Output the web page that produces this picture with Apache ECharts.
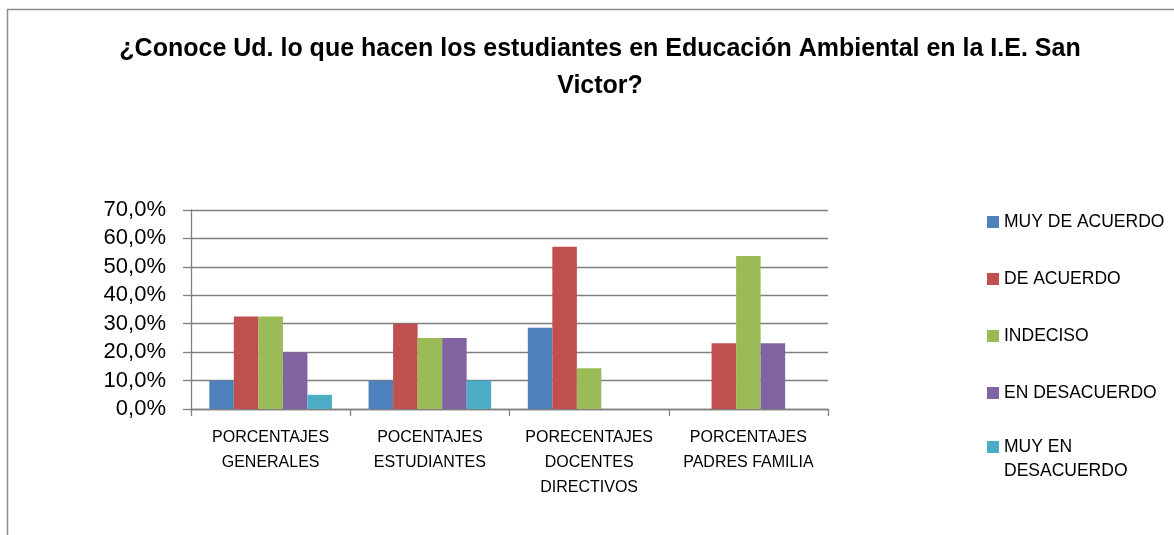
<!DOCTYPE html>
<html>
<head>
<meta charset="utf-8">
<script src="https://cdn.jsdelivr.net/npm/echarts@6/dist/echarts.min.js"></script>
<style>
html,body{margin:0;padding:0;background:#fff;}
#chart{width:1174px;height:535px;}
</style>
</head>
<body>
<div id="chart"></div>
<script>
var titleText = '¿Conoce Ud. lo que hacen los estudiantes en Educación Ambiental en la I.E. San\nVictor?';
var categories = ['PORCENTAJES\nGENERALES', 'POCENTAJES\nESTUDIANTES', 'PORECENTAJES\nDOCENTES\nDIRECTIVOS', 'PORCENTAJES\nPADRES FAMILIA'];
var seriesNames = ['MUY DE ACUERDO', 'DE ACUERDO', 'INDECISO', 'EN DESACUERDO', 'MUY EN DESACUERDO'];
var muyDeAcuerdo = [10.0, 10.0, 28.6, 0];
var deAcuerdo = [32.5, 30.0, 57.1, 23.1];
var indeciso = [32.5, 25.0, 14.3, 53.8];
var enDesacuerdo = [20.0, 25.0, 0, 23.1];
var muyEnDesacuerdo = [5.0, 10.0, 0, 0];
var yTicks = [0, 10, 20, 30, 40, 50, 60, 70];

var colors = ['#4F81BD', '#C0504D', '#9BBB59', '#8064A2', '#4BACC6'];
var seriesData = [muyDeAcuerdo, deAcuerdo, indeciso, enDesacuerdo, muyEnDesacuerdo];
var FONT = "'Liberation Sans', Arial, sans-serif";
var legendTops = [213, 270, 327, 384, 411];

var chart = echarts.init(document.getElementById('chart'), null, {renderer: 'canvas'});

var legends = seriesNames.map(function (n, i) {
  var last = i === seriesNames.length - 1;
  return {
    data: [n],
    left: 987,
    top: legendTops[i],
    padding: 0,
    itemWidth: 12,
    itemHeight: 12,
    icon: 'rect',
    selectedMode: false,
    formatter: function (name) { return name === 'MUY EN DESACUERDO' ? '\nMUY EN\nDESACUERDO' : name; },
    textStyle: last ? {fontFamily: FONT, fontSize: 17.5, color: '#000', lineHeight: 24}
                    : {fontFamily: FONT, fontSize: 17.5, color: '#000', lineHeight: 12}
  };
});

var option = {
  animation: false,
  color: colors,
  title: {
    text: titleText,
    left: 600,
    top: 31,
    padding: 0,
    textAlign: 'center',
    textStyle: {fontFamily: FONT, fontSize: 25, fontWeight: 'bold', color: '#000', lineHeight: 37}
  },
  legend: legends,
  graphic: [{
    type: 'polyline',
    shape: {points: [[7.5, 540], [7.5, 9.5], [1180, 9.5]]},
    style: {stroke: '#8c8c8c', fill: null, lineWidth: 1.5},
    silent: true
  }],
  grid: {left: 191, right: 346, top: 210, bottom: 126, containLabel: false},
  xAxis: {
    type: 'category',
    data: categories,
    boundaryGap: true,
    axisLine: {show: true, lineStyle: {color: '#7f7f7f', width: 1.3}},
    axisTick: {show: true, length: 7, lineStyle: {color: '#7f7f7f', width: 1.3}},
    axisLabel: {fontFamily: FONT, fontSize: 16, color: '#000', lineHeight: 25, margin: 16, interval: 0}
  },
  yAxis: {
    type: 'value',
    min: 0,
    max: 70,
    interval: 10,
    axisLine: {show: true, lineStyle: {color: '#7f7f7f', width: 1.3}},
    axisTick: {show: true, length: 8, lineStyle: {color: '#7f7f7f', width: 1.3}},
    splitLine: {show: true, lineStyle: {color: '#7f7f7f', width: 1.3}},
    axisLabel: {
      fontFamily: FONT, fontSize: 22, color: '#000', margin: 25,
      formatter: function (v) { return v.toFixed(1).replace('.', ',') + '%'; }
    }
  },
  series: seriesNames.map(function (n, i) {
    return {
      name: n,
      type: 'bar',
      data: seriesData[i],
      barGap: '0%',
      barCategoryGap: '23%',
      itemStyle: {color: colors[i]}
    };
  })
};
chart.setOption(option);
</script>
</body>
</html>
